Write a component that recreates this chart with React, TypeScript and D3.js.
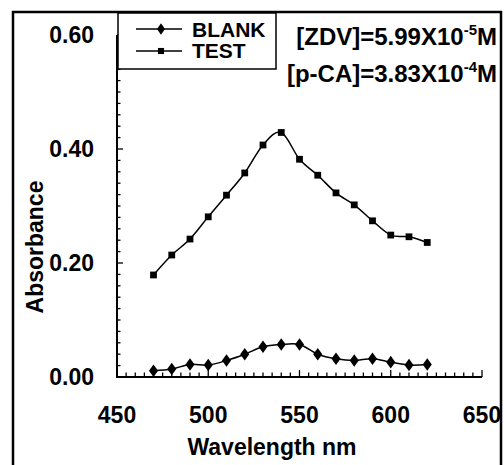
import React from "react";
import * as d3 from "d3";

const wavelengths = [470, 480, 490, 500, 510, 520, 530, 540, 550, 560, 570, 580, 590, 600, 610, 620];
const blankValues = [0.011, 0.014, 0.022, 0.021, 0.029, 0.040, 0.053, 0.057, 0.057, 0.040, 0.032, 0.029, 0.032, 0.026, 0.021, 0.022];
const testValues = [0.179, 0.214, 0.242, 0.281, 0.319, 0.358, 0.407, 0.429, 0.382, 0.354, 0.323, 0.302, 0.274, 0.249, 0.246, 0.236];
const xTickLabels = [450, 500, 550, 600, 650];
const yTickLabels = [0.0, 0.2, 0.4, 0.6];
const seriesNames = ["BLANK", "TEST"];

const FONT = "'Liberation Sans', Arial, sans-serif";

export default function App() {
  const x = d3.scaleLinear().domain([450, 650]).range([117, 482]);
  const y = d3.scaleLinear().domain([0, 0.6]).range([377, 35]);

  const line = d3
    .line<number>()
    .x((_, i) => x(wavelengths[i]))
    .y((d) => y(d))
    .curve(d3.curveCardinal.tension(0));

  const xMinor = d3.range(450, 650.1, 5);
  const yMinor = d3.range(0, 0.6001, 0.02);

  const diamond = d3.symbol().type(d3.symbolDiamond).size(46)();
  const square = d3.symbol().type(d3.symbolSquare).size(46)();

  return (
    <svg width={504} height={465} style={{ position: "absolute", left: 0, top: 0, background: "#fff" }}>
      <rect x={0} y={0} width={504} height={465} fill="#fff" />
      {/* outer frame */}
      <rect x={13} y={12} width={488} height={470} fill="none" stroke="#000" strokeWidth={2.5} />

      {/* axes */}
      <line x1={x(450)} x2={x(650)} y1={y(0)} y2={y(0)} stroke="#000" strokeWidth={2} />
      <line x1={x(450)} x2={x(450)} y1={y(0) + 1} y2={y(0.6)} stroke="#000" strokeWidth={2} />

      {xMinor.map((v, i) => {
        const major = Math.abs(v % 50) < 1e-6;
        return (
          <line key={"xt" + i} x1={x(v)} x2={x(v)} y1={y(0)} y2={y(0) - (major ? 7 : 4.5)} stroke="#000" strokeWidth={1.3} />
        );
      })}
      {yMinor.map((v, i) => {
        const major = Math.abs(Math.round(v * 100) % 20) < 1e-6;
        return (
          <line key={"yt" + i} x1={x(450)} x2={x(450) + (major ? 6 : 3.5)} y1={y(v)} y2={y(v)} stroke="#000" strokeWidth={1.3} />
        );
      })}

      {xTickLabels.map((v) => (
        <text key={"xl" + v} x={x(v)} y={423} textAnchor="middle" fontFamily={FONT} fontWeight="bold" fontSize={23}>
          {v}
        </text>
      ))}
      {yTickLabels.map((v) => (
        <text key={"yl" + v} x={94} y={y(v) + 8} textAnchor="end" fontFamily={FONT} fontWeight="bold" fontSize={23}>
          {v.toFixed(2)}
        </text>
      ))}

      <text x={272} y={455} textAnchor="middle" fontFamily={FONT} fontWeight="bold" fontSize={23}>
        Wavelength nm
      </text>
      <text transform="translate(43,247) rotate(-90)" textAnchor="middle" fontFamily={FONT} fontWeight="bold" fontSize={23}>
        Absorbance
      </text>

      {/* series */}
      <path d={line(testValues) || ""} fill="none" stroke="#000" strokeWidth={1.5} />
      <path d={line(blankValues) || ""} fill="none" stroke="#000" strokeWidth={1.5} />
      {testValues.map((v, i) => (
        <path key={"ts" + i} d={square || ""} transform={`translate(${x(wavelengths[i])},${y(v)})`} fill="#000" />
      ))}
      {blankValues.map((v, i) => (
        <path key={"bs" + i} d={diamond || ""} transform={`translate(${x(wavelengths[i])},${y(v)}) scale(1.25,1)`} fill="#000" />
      ))}

      {/* legend */}
      <rect x={118} y={13} width={158} height={56} fill="#fff" stroke="#000" strokeWidth={1.5} />
      <line x1={136} x2={182} y1={29} y2={29} stroke="#000" strokeWidth={1.5} />
      <path d={diamond || ""} transform="translate(161,29) scale(1.1,0.9)" fill="#000" />
      <text x={192} y={37} fontFamily={FONT} fontWeight="bold" fontSize={21}>{seriesNames[0]}</text>
      <line x1={136} x2={182} y1={51} y2={51} stroke="#000" strokeWidth={1.5} />
      <path d={square || ""} transform="translate(161,51) scale(0.9)" fill="#000" />
      <text x={192} y={58} fontFamily={FONT} fontWeight="bold" fontSize={21}>{seriesNames[1]}</text>

      {/* annotation */}
      <text x={497} y={45} textAnchor="end" fontFamily={FONT} fontWeight="bold" fontSize={24}>
        [ZDV]=5.99X10<tspan fontSize={15} dy={-10}>-5</tspan><tspan dy={10}>M</tspan>
      </text>
      <text x={497} y={82} textAnchor="end" fontFamily={FONT} fontWeight="bold" fontSize={24}>
        [p-CA]=3.83X10<tspan fontSize={15} dy={-10}>-4</tspan><tspan dy={10}>M</tspan>
      </text>
    </svg>
  );
}
